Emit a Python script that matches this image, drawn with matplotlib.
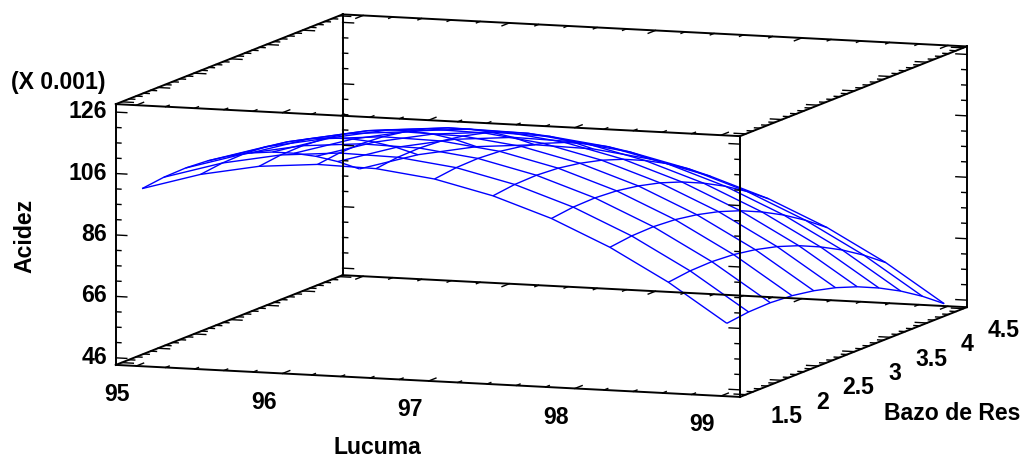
import numpy as np
import matplotlib
matplotlib.use('Agg')
import matplotlib.pyplot as plt
from mpl_toolkits.mplot3d import proj3d

plt.rcParams['font.family'] = ['Liberation Sans', 'DejaVu Sans']

lucuma = [95.0, 95.4, 95.8, 96.2, 96.6, 97.0, 97.4, 97.8, 98.2, 98.6, 99.0]
bazo = [1.5, 1.8, 2.1, 2.4, 2.7, 3.0, 3.3, 3.6, 3.9, 4.2, 4.5]
# one row per lucuma value (X 0.001)
acidez = [
    [100.7, 101.6, 101.8, 101.3, 100.1, 98.3, 95.8, 92.6, 88.8, 84.3, 79.1],
    [106.3, 107.2, 107.4, 106.9, 105.7, 103.9, 101.4, 98.2, 94.4, 89.9, 84.7],
    [109.9, 110.8, 111.0, 110.5, 109.3, 107.5, 105.0, 101.8, 98.0, 93.5, 88.3],
    [111.5, 112.4, 112.6, 112.1, 110.9, 109.1, 106.6, 103.4, 99.6, 95.1, 89.9],
    [111.1, 112.0, 112.2, 111.7, 110.5, 108.7, 106.2, 103.0, 99.2, 94.7, 89.5],
    [108.7, 109.6, 109.8, 109.3, 108.1, 106.3, 103.8, 100.6, 96.8, 92.3, 87.1],
    [104.2, 105.1, 105.3, 104.8, 103.6, 101.8, 99.3, 96.1, 92.3, 87.8, 82.6],
    [97.8, 98.7, 98.9, 98.4, 97.2, 95.4, 92.9, 89.7, 85.9, 81.4, 76.2],
    [89.4, 90.3, 90.5, 90.0, 88.8, 87.0, 84.5, 81.3, 77.5, 73.0, 67.8],
    [79.0, 79.9, 80.1, 79.6, 78.4, 76.6, 74.1, 70.9, 67.1, 62.6, 57.4],
    [66.6, 67.5, 67.7, 67.2, 66.0, 64.2, 61.7, 58.5, 54.7, 50.2, 45.0],
]
x_major = [95, 96, 97, 98, 99]
y_major = [1.5, 2, 2.5, 3, 3.5, 4, 4.5]
y_labels = ['1.5', '2', '2.5', '3', '3.5', '4', '4.5']
z_major = [46, 66, 86, 106, 126]
z_minor = [51, 56, 61, 71, 76, 81, 91, 96, 101, 111, 116, 121]

xlo, xhi = 94.86, 99.13
ylo, yhi = 1.42, 4.55
zlo, zhi = 43.7, 128.6

W, H = 1023, 457
S = 950
cx, cy = 528.5, 218.5

fig = plt.figure(figsize=(W / 100, H / 100), dpi=100)
ax = fig.add_axes([(cx - S / 2) / W, (H - cy - S / 2) / H, S / W, S / H], projection='3d')
ax.set_proj_type('ortho')
ax.view_init(elev=8.19, azim=-70.2)
ax.set_xlim(xlo, xhi, view_margin=0)
ax.set_ylim(ylo, yhi, view_margin=0)
ax.set_zlim(zlo, zhi, view_margin=0)
ax.set_box_aspect((664, 670, 263.7))
ax.set_axis_off()
ax.computed_zorder = False
ax.patch.set_alpha(0)

X, Y = np.meshgrid(lucuma, bazo, indexing='ij')
ax.plot_wireframe(X, Y, np.array(acidez), rstride=1, cstride=1, color='#0000ff', linewidth=1.0, zorder=2)


def line(xs, ys, zs, lw=1.4):
    ax.plot(xs, ys, zs, color='black', linewidth=lw, zorder=3, solid_capstyle='projecting')


# box edges
for y0 in (ylo, yhi):
    for z0 in (zlo, zhi):
        line([xlo, xhi], [y0, y0], [z0, z0])
for x0 in (xlo, xhi):
    for z0 in (zlo, zhi):
        line([x0, x0], [ylo, yhi], [z0, z0])
    for y0 in (ylo, yhi):
        line([x0, x0], [y0, y0], [zlo, zhi])

# z ticks on the four verticals
for v in z_major + z_minor:
    ln = 0.075 if v in z_major else 0.035
    for x0, sgn in ((xlo, 1), (xhi, -1)):
        for y0 in (ylo, yhi):
            line([x0, x0 + sgn * ln], [y0, y0], [v, v], lw=1.0)

# x ticks on the four long edges
for v in np.arange(95, 99.1, 0.2):
    ln = 0.1 if abs(v - round(v)) < 0.01 else 0.05
    for z0 in (zlo, zhi):
        line([v, v], [ylo, ylo + ln], [z0, z0], lw=1.0)
        line([v, v], [yhi, yhi - ln], [z0, z0], lw=1.0)

# y ticks on the four side edges
for v in np.arange(1.5, 4.55, 0.1):
    ln = 0.08 if abs(v * 2 - round(v * 2)) < 0.01 else 0.04
    for z0 in (zlo, zhi):
        line([xlo, xlo + ln], [v, v], [z0, z0], lw=1.0)
        line([xhi, xhi - ln], [v, v], [z0, z0], lw=1.0)

fs = 16.6
M = ax.get_proj()


def tick_label(x, y, z, s, **kw):
    # 2D annotation at the projected point, keeps the text box in the figure
    px, py, _ = proj3d.proj_transform(x, y, z, M)
    ax.annotate(s, (px, py), annotation_clip=False, va='center', fontsize=fs, fontweight='bold', **kw)


for v in x_major:
    tick_label(v, ylo - 0.26, zlo - 7.0, str(v), ha='center')
for v, s in zip(y_major, y_labels):
    tick_label(xhi + 0.275, v, zlo - 6.5, s, ha='center')
for v in z_major:
    tick_label(xlo - 0.06, ylo, v, str(v), ha='right')


def label(px, py, s, **kw):
    fig.text(px / W, 1 - py / H, s, ha='center', va='center', fontsize=fs, fontweight='bold', **kw)


label(377, 447, 'Lucuma')
label(952, 413, 'Bazo de Res')
label(25, 236, 'Acidez', rotation=90)
label(58, 82, '(X 0.001)')

fig.savefig('out.png', dpi=100)
